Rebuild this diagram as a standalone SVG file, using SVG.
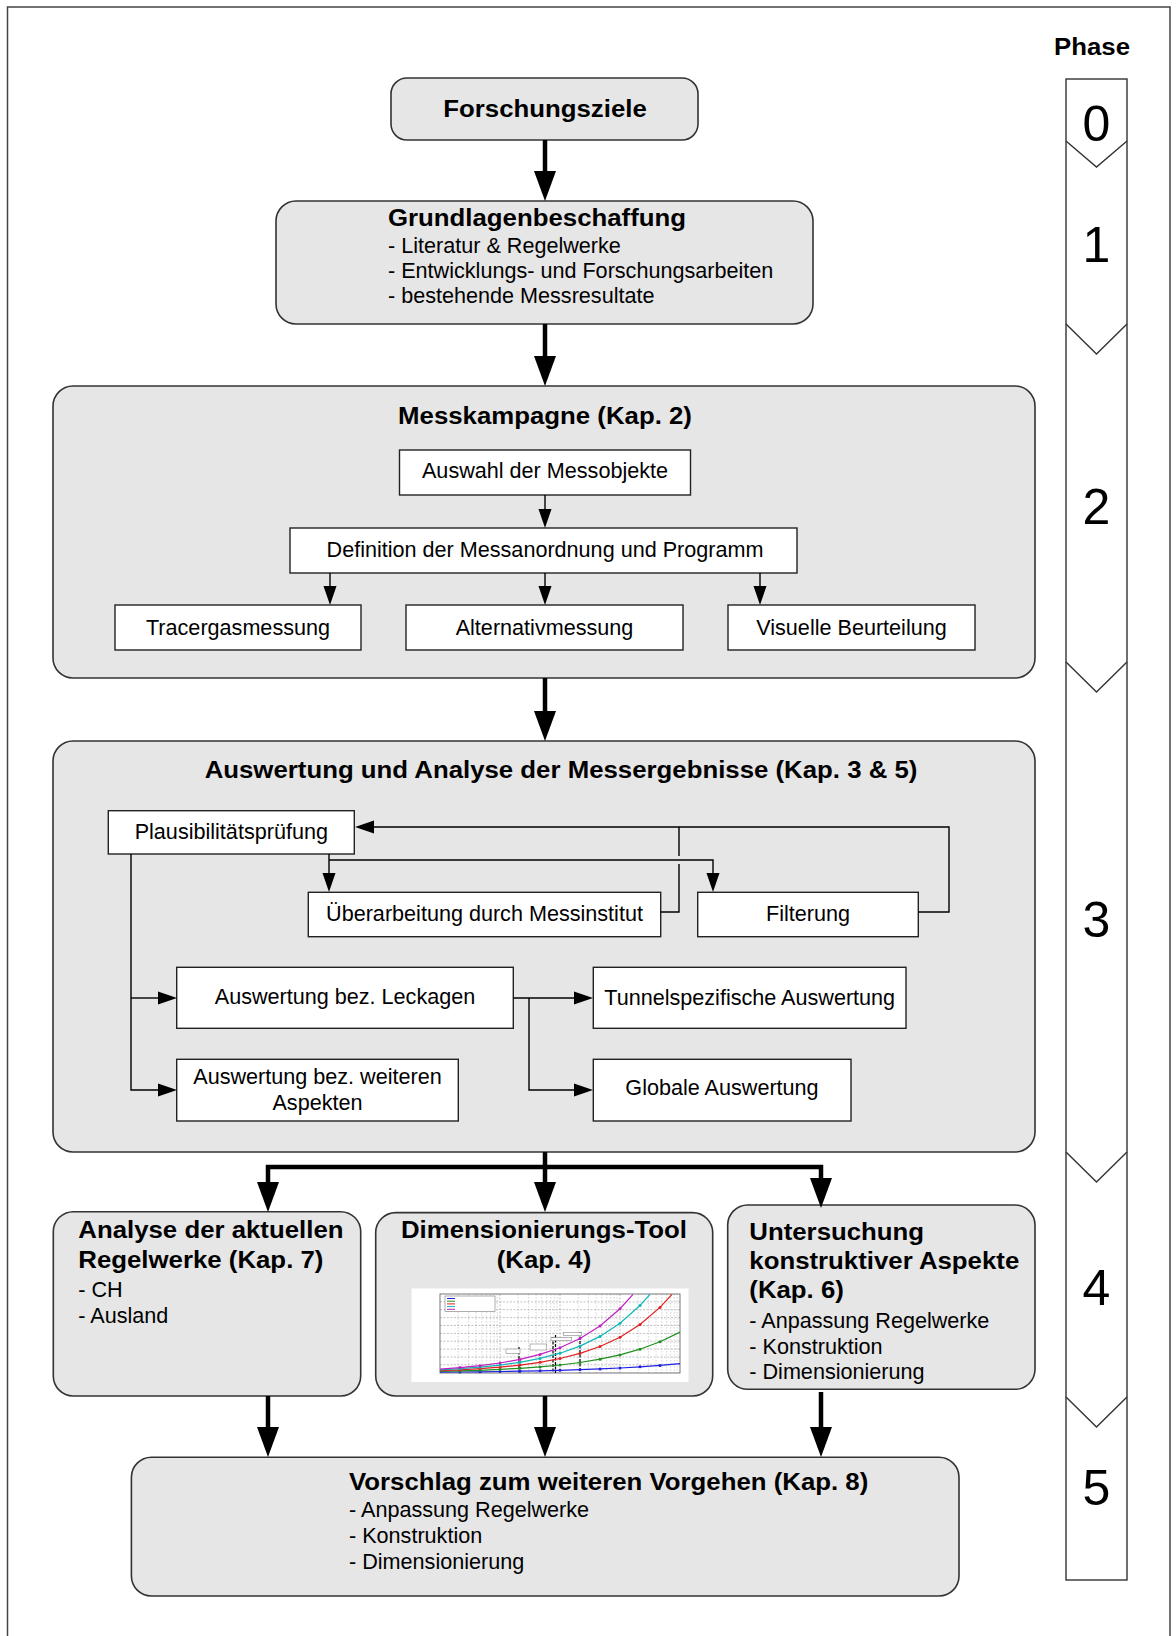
<svg xmlns="http://www.w3.org/2000/svg" width="1176" height="1636" viewBox="0 0 1176 1636">
<style>
.box{fill:#e6e6e6;stroke:#333;stroke-width:1.6}
.wbox{fill:#fff;stroke:#222;stroke-width:1.4}
.b{font-family:"Liberation Sans",Arial,sans-serif;font-weight:bold;font-size:24px;fill:#000}
.r{font-family:"Liberation Sans",Arial,sans-serif;font-size:21.6px;fill:#000}
.d{font-family:"Liberation Sans",Arial,sans-serif;font-size:50px;fill:#000;text-anchor:middle}
.c{text-anchor:middle}
.thick{fill:none;stroke:#000;stroke-width:4.5;marker-end:url(#ab)}
.thin{fill:none;stroke:#000;stroke-width:1.4}
.tha{marker-end:url(#as)}
.grid{fill:none;stroke:#b8b8b8;stroke-width:0.6;stroke-dasharray:1.5,1.5}
.crv{fill:none;stroke-width:1.2}
</style>
<defs>
<marker id="ab" markerUnits="userSpaceOnUse" markerWidth="30" markerHeight="22" refX="0" refY="11" orient="auto" overflow="visible"><path d="M0,0 L30,11 L0,22 z" fill="#000"/></marker>
<marker id="as" markerUnits="userSpaceOnUse" markerWidth="19" markerHeight="13" refX="0" refY="6.5" orient="auto" overflow="visible"><path d="M0,0 L19,6.5 L0,13 z" fill="#000"/></marker>
<marker id="mm" markerUnits="userSpaceOnUse" markerWidth="4" markerHeight="4" refX="2" refY="2" overflow="visible"><circle cx="2" cy="2" r="1.5" fill="#c020c0"/></marker>
<marker id="mc" markerUnits="userSpaceOnUse" markerWidth="4" markerHeight="4" refX="2" refY="2" overflow="visible"><circle cx="2" cy="2" r="1.5" fill="#10b8b8"/></marker>
<marker id="mr" markerUnits="userSpaceOnUse" markerWidth="4" markerHeight="4" refX="2" refY="2" overflow="visible"><circle cx="2" cy="2" r="1.5" fill="#e02020"/></marker>
<marker id="mg" markerUnits="userSpaceOnUse" markerWidth="4" markerHeight="4" refX="2" refY="2" overflow="visible"><circle cx="2" cy="2" r="1.5" fill="#209020"/></marker>
<marker id="mb" markerUnits="userSpaceOnUse" markerWidth="4" markerHeight="4" refX="2" refY="2" overflow="visible"><circle cx="2" cy="2" r="1.5" fill="#2020e0"/></marker>
</defs>
<rect x="0" y="0" width="1176" height="1636" fill="#fff"/>
<path d="M7.5,1640 V7 H1170 V1640" fill="none" stroke="#444" stroke-width="1.5"/>

<g id="phase">
<text class="b c" transform="translate(1092,55) scale(1.075,1)">Phase</text>
<rect x="1066" y="79" width="61" height="1501" fill="#fff" stroke="#333" stroke-width="1.4"/>
<path d="M1066,141 L1096.5,167 L1127,141 M1066,324 L1096.5,354 L1127,324 M1066,662 L1096.5,692 L1127,662 M1066,1152 L1096.5,1182 L1127,1152 M1066,1397 L1096.5,1427 L1127,1397" fill="none" stroke="#333" stroke-width="1.4"/>
<text class="d" x="1096.5" y="141">0</text>
<text class="d" x="1096.5" y="262">1</text>
<text class="d" x="1096.5" y="524">2</text>
<text class="d" x="1096.5" y="937">3</text>
<text class="d" x="1096.5" y="1305">4</text>
<text class="d" x="1096.5" y="1505">5</text>
</g>

<g id="forschungsziele">
<rect class="box" x="391" y="78" width="307" height="62" rx="16"/>
<text class="b c" transform="translate(545,117) scale(1.075,1)">Forschungsziele</text>
</g>

<g id="grundlagen">
<rect class="box" x="276" y="201" width="537" height="123" rx="20"/>
<text class="b" transform="translate(388,226) scale(1.075,1)">Grundlagenbeschaffung</text>
<text class="r" x="388" y="252.5">- Literatur &amp; Regelwerke</text>
<text class="r" x="388" y="277.5">- Entwicklungs- und Forschungsarbeiten</text>
<text class="r" x="388" y="302.5">- bestehende Messresultate</text>
</g>

<g id="messkampagne">
<rect class="box" x="53" y="386" width="982" height="292" rx="20"/>
<text class="b c" transform="translate(545,424) scale(1.075,1)">Messkampagne (Kap. 2)</text>
</g>
<g id="auswahl">
<rect class="wbox" x="399.5" y="450" width="291" height="45"/>
<text class="r c" x="545" y="478">Auswahl der Messobjekte</text>
</g>
<g id="definition">
<rect class="wbox" x="290" y="528" width="507" height="45"/>
<text class="r c" x="545" y="557">Definition der Messanordnung und Programm</text>
</g>
<g id="tracergas">
<rect class="wbox" x="115" y="605" width="246" height="45"/>
<text class="r c" x="238" y="635">Tracergasmessung</text>
</g>
<g id="alternativ">
<rect class="wbox" x="406" y="605" width="277" height="45"/>
<text class="r c" x="544.5" y="635">Alternativmessung</text>
</g>
<g id="visuelle">
<rect class="wbox" x="728" y="605" width="247" height="45"/>
<text class="r c" x="851.5" y="635">Visuelle Beurteilung</text>
</g>

<g id="auswertung">
<rect class="box" x="53" y="741" width="982" height="411" rx="20"/>
<text class="b c" transform="translate(561,778) scale(1.075,1)">Auswertung und Analyse der Messergebnisse (Kap. 3 &amp; 5)</text>
</g>
<g id="plausibilitaet">
<rect class="wbox" x="108.3" y="810.7" width="246" height="43.3"/>
<text class="r c" x="231.3" y="839">Plausibilitätsprüfung</text>
</g>
<g id="ueberarbeitung">
<rect class="wbox" x="308.3" y="892.3" width="352.4" height="44.4"/>
<text class="r c" x="484.5" y="920.5">Überarbeitung durch Messinstitut</text>
</g>
<g id="filterung">
<rect class="wbox" x="697.7" y="892.3" width="220.6" height="44.4"/>
<text class="r c" x="808" y="921">Filterung</text>
</g>
<g id="leckagen">
<rect class="wbox" x="176.7" y="967.3" width="336.6" height="61"/>
<text class="r c" x="345" y="1004">Auswertung bez. Leckagen</text>
</g>
<g id="weitere">
<rect class="wbox" x="176.7" y="1059.3" width="281.6" height="61.7"/>
<text class="r c" x="317.5" y="1083.5">Auswertung bez. weiteren</text>
<text class="r c" x="317.5" y="1110">Aspekten</text>
</g>
<g id="tunnelspezifisch">
<rect class="wbox" x="593.3" y="967.3" width="312.7" height="61"/>
<text class="r c" x="749.7" y="1005">Tunnelspezifische Auswertung</text>
</g>
<g id="global">
<rect class="wbox" x="593.3" y="1059.3" width="257.7" height="61.7"/>
<text class="r c" x="722" y="1095">Globale Auswertung</text>
</g>

<g id="analyse">
<rect class="box" x="53.3" y="1211.7" width="307.4" height="184.3" rx="20"/>
<text class="b" transform="translate(78.3,1238) scale(1.075,1)">Analyse der aktuellen</text>
<text class="b" transform="translate(78.3,1268) scale(1.075,1)">Regelwerke (Kap. 7)</text>
<text class="r" x="78.3" y="1297">- CH</text>
<text class="r" x="78.3" y="1323">- Ausland</text>
</g>

<g id="dimensionierung">
<rect class="box" x="375.7" y="1212.6" width="337" height="183.4" rx="20"/>
<text class="b c" transform="translate(544,1238) scale(1.075,1)">Dimensionierungs-Tool</text>
<text class="b c" transform="translate(544,1268) scale(1.075,1)">(Kap. 4)</text>
<g id="chart">
<rect x="411.5" y="1288.5" width="277" height="93.5" fill="#fff"/>
<path class="grid" d="M458.1,1294V1373M468.6,1294V1373M476.1,1294V1373M481.9,1294V1373M486.7,1294V1373M490.7,1294V1373M494.2,1294V1373M497.2,1294V1373M518.1,1294V1373M528.6,1294V1373M536.1,1294V1373M541.9,1294V1373M546.7,1294V1373M550.7,1294V1373M554.2,1294V1373M557.2,1294V1373M578.1,1294V1373M588.6,1294V1373M596.1,1294V1373M601.9,1294V1373M606.7,1294V1373M610.7,1294V1373M614.2,1294V1373M617.2,1294V1373M638.1,1294V1373M648.6,1294V1373M656.1,1294V1373M661.9,1294V1373M666.7,1294V1373M670.7,1294V1373M674.2,1294V1373M677.2,1294V1373"/>
<path d="M500,1294V1373M560,1294V1373M620,1294V1373M440,1301.9H680M440,1309.7H680M440,1317.6H680M440,1325.5H680M440,1333.4H680M440,1341.2H680M440,1349.1H680M440,1357H680M440,1364.8H680" fill="none" stroke="#999" stroke-width="0.6" stroke-dasharray="2,1.5"/>
<rect x="440" y="1294" width="240" height="79" fill="none" stroke="#555" stroke-width="0.8"/>
<path d="M519,1347V1373M553,1337V1373M555.5,1335V1373M580,1332V1373" fill="none" stroke="#000" stroke-width="1.2" stroke-dasharray="3,1.5"/>
<g fill="#fff" stroke="#888" stroke-width="0.6">
<rect x="506" y="1349" width="14" height="4.3"/>
<rect x="530" y="1344" width="16.7" height="6"/>
<rect x="551" y="1337.7" width="20.7" height="3"/>
<rect x="563.3" y="1332.7" width="18.4" height="3"/>
</g>
<polyline class="crv" stroke="#2020e0" marker-mid="url(#mb)" points="440,1372.2 460,1372 480,1371.8 500,1371.5 520,1371.2 540,1370.8 560,1370.3 580,1369.7 600,1368.9 620,1368 640,1366.8 660,1365.4 680,1363.6"/>
<polyline class="crv" stroke="#209020" marker-mid="url(#mg)" points="440,1371.4 460,1370.9 480,1370.3 500,1369.4 520,1368.3 540,1366.9 560,1365 580,1362.5 600,1359.2 620,1354.9 640,1349.2 660,1341.8 680,1332.1"/>
<polyline class="crv" stroke="#e02020" marker-mid="url(#mr)" points="440,1370.6 460,1369.8 480,1368.7 500,1367.2 520,1365.1 540,1362.3 560,1358.5 580,1353.4 600,1346.5 620,1337.2 640,1324.5 660,1307.4 672,1294.3"/>
<polyline class="crv" stroke="#10b8b8" marker-mid="url(#mc)" points="440,1369.9 460,1368.7 480,1367.2 500,1365.1 520,1362.3 540,1358.4 560,1353.2 580,1346.1 600,1336.4 620,1323.3 640,1305.5 650,1294.3"/>
<polyline class="crv" stroke="#c020c0" marker-mid="url(#mm)" points="440,1369.1 460,1367.6 480,1365.7 500,1363 520,1359.4 540,1354.4 560,1347.7 580,1338.5 600,1325.9 620,1308.7 633,1294.3"/>
<rect x="445" y="1296" width="50" height="15.7" fill="#fff" stroke="#777" stroke-width="0.6"/>
<path d="M447,1298.5h8" stroke="#2020e0" stroke-width="1"/>
<path d="M447,1301.2h8" stroke="#209020" stroke-width="1"/>
<path d="M447,1303.9h8" stroke="#e02020" stroke-width="1"/>
<path d="M447,1306.6h8" stroke="#10b8b8" stroke-width="1"/>
<path d="M447,1309.3h8" stroke="#c020c0" stroke-width="1"/>
</g>
</g>

<g id="untersuchung">
<rect class="box" x="727.7" y="1205" width="307.3" height="184.3" rx="20"/>
<text class="b" transform="translate(749.3,1240) scale(1.075,1)">Untersuchung</text>
<text class="b" transform="translate(749.3,1268.5) scale(1.075,1)">konstruktiver Aspekte</text>
<text class="b" transform="translate(749.3,1298) scale(1.075,1)">(Kap. 6)</text>
<text class="r" x="749.3" y="1328">- Anpassung Regelwerke</text>
<text class="r" x="749.3" y="1353.5">- Konstruktion</text>
<text class="r" x="749.3" y="1379">- Dimensionierung</text>
</g>

<g id="vorschlag">
<rect class="box" x="131.4" y="1457.3" width="827.6" height="138.7" rx="20"/>
<text class="b" transform="translate(349,1490) scale(1.075,1)">Vorschlag zum weiteren Vorgehen (Kap. 8)</text>
<text class="r" x="349" y="1517">- Anpassung Regelwerke</text>
<text class="r" x="349" y="1543">- Konstruktion</text>
<text class="r" x="349" y="1568.5">- Dimensionierung</text>
</g>

<g id="connectors">
<path class="thick" d="M545,140 V171"/>
<path class="thick" d="M545,324 V356"/>
<path class="thick" d="M545,678 V711"/>
<path class="thick" d="M545,1152 V1182"/>
<path class="thick" d="M545,1167 H268 V1182"/>
<path class="thick" d="M545,1167 H821 V1178"/>
<path class="thick" d="M268,1396 V1427"/>
<path class="thick" d="M545,1396 V1427"/>
<path class="thick" d="M821,1392 V1427"/>
<path class="thin tha" d="M545,495 V509"/>
<path class="thin tha" d="M330,573 V586"/>
<path class="thin tha" d="M545,573 V586"/>
<path class="thin tha" d="M760,573 V586"/>
<path class="thin tha" d="M918.3,912 H949 V827 H374"/>
<path class="thin" d="M660.7,912 H679 V864 M679,856 V827"/>
<path class="thin tha" d="M329,854 V873"/>
<path class="thin tha" d="M329,860 H713 V873"/>
<path class="thin tha" d="M131,854 V1090 H158"/>
<path class="thin tha" d="M131,998 H158"/>
<path class="thin tha" d="M513.3,998 H574"/>
<path class="thin tha" d="M529,998 V1090 H574"/>
</g>
</svg>
